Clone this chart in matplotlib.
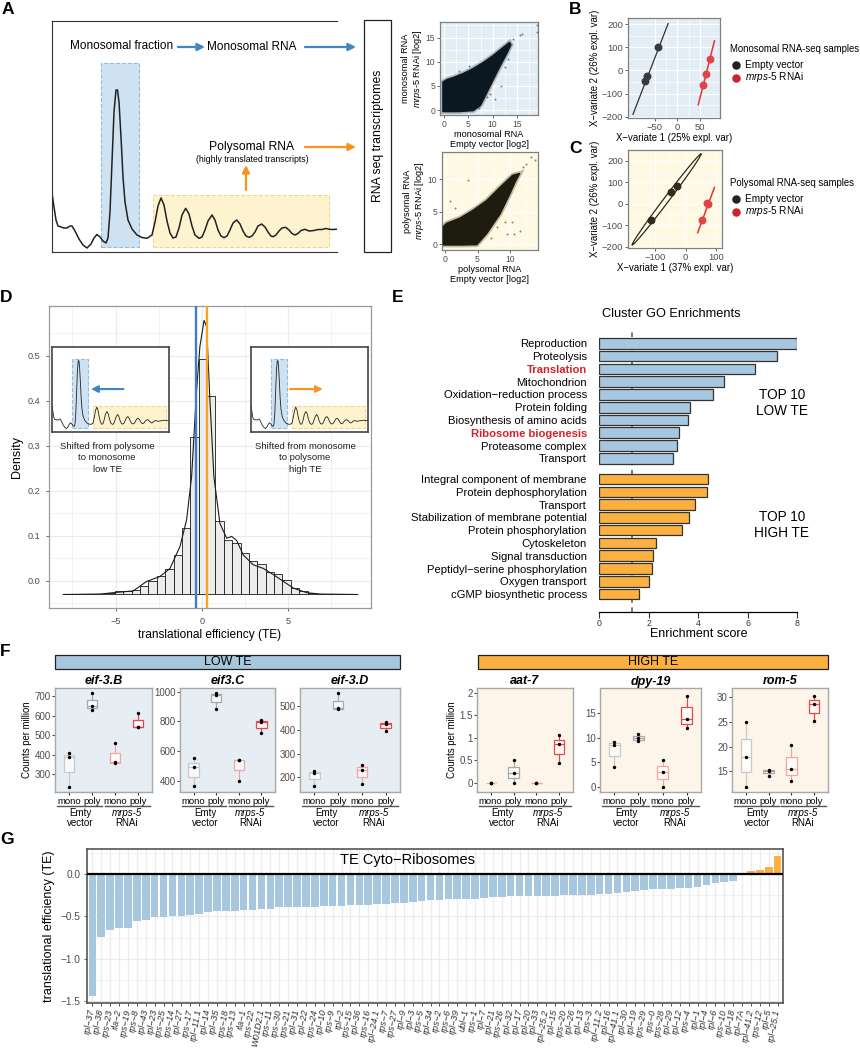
import numpy as np
import matplotlib.pyplot as plt
from matplotlib.patches import Rectangle

plt.rcParams['font.family'] = ['Liberation Sans', 'DejaVu Sans']
plt.rcParams['mathtext.fontset'] = 'custom'
plt.rcParams['mathtext.rm'] = 'Liberation Sans'
plt.rcParams['mathtext.it'] = 'Liberation Sans:italic'
plt.rcParams['mathtext.bf'] = 'Liberation Sans:bold'

# ---------------- data ----------------
# A: polysome profile sketch (position along gradient, absorbance)
profile = [(0, 59), (2, 45), (4, 32), (6, 26), (9, 25), (12, 24), (15, 24), (18, 26), (20, 26),
           (23, 21), (27, 13), (31, 7), (35, 4), (39, 8), (42, 14), (45, 17.5), (48, 15), (51, 11),
           (54, 9), (56, 14), (58, 40), (60, 90), (62, 140), (64, 162), (65.5, 162), (67, 150),
           (69, 115), (71, 75), (73, 50), (76, 32), (80, 23), (85, 17), (90, 14.5), (95, 13.7),
           (100, 17), (103, 30), (106, 46), (109, 54), (112, 47), (115, 31), (118, 19), (121, 14),
           (124, 15), (127, 24), (130, 37), (133.7, 43.7), (137, 38), (140, 26), (143, 17),
           (147, 13.7), (150, 15), (153, 22), (156, 31), (160, 37), (163, 32), (166, 22), (169, 16),
           (172, 14.3), (175, 16), (178, 22), (181, 29), (184.7, 32), (188, 28), (191, 21), (194, 16),
           (197, 14.7), (200, 16), (203, 20), (206, 26), (209.7, 28), (213, 25), (216, 20), (219, 16),
           (221, 15.3), (224, 17), (227, 21), (230, 24), (233.7, 24.7), (237, 22), (240, 18.5),
           (243, 17), (246, 18.5), (249, 21.5), (253, 22.7), (257, 21), (262, 21.5), (266, 22.5),
           (270, 22.5), (274, 23.5), (279, 22.5), (285, 22.7)]
profile_x = [p[0] for p in profile]
profile_y = [p[1] for p in profile]

# A: scatter plots, outline of the dense gene cloud plus loose genes
mono_cloud_x = [-0.3, 3.0, 6.0, 7.5, 8.5, 10.0, 11.5, 13.0, 13.8, 13.5, 12.0, 10.0, 8.0, 6.0, 4.0, 2.0, 0.5, -0.3]
mono_cloud_y = [-0.3, -0.3, -0.1, 1.0, 3.0, 6.0, 9.0, 11.8, 13.5, 14.0, 12.8, 11.2, 9.8, 8.6, 7.6, 6.8, 6.3, 5.8]
mono_loose_x = [15.6, 19.2, 19.2, 14.3, 8.8, 9.5, 7.1, 10.5, 11.8, 3.0, 5.2, 12.6, 13.2, 16.0]
mono_loose_y = [15.5, 17.5, 16.1, 14.6, 2.7, 3.3, 0.5, 2.4, 5.0, 8.0, 9.2, 9.0, 10.5, 15.8]
poly_cloud_x = [-0.26, 2.5, 4.9, 6.4, 8.5, 10.0, 10.8, 11.5, 10.4, 8.5, 6.4, 4.3, 2.3, 0.26, -0.26]
poly_cloud_y = [-0.15, -0.15, -0.1, 1.6, 4.7, 7.8, 9.6, 10.9, 10.6, 8.8, 6.7, 5.2, 4.0, 3.2, 2.7]
poly_loose_x = [13.3, 13.8, 12.5, 12.0, 0.8, 3.6, 8.0, 9.2, 9.5, 10.3, 10.6, 7.0, 1.5, 11.5]
poly_loose_y = [13.4, 12.9, 12.4, 11.9, 6.7, 9.9, 2.6, 3.4, 1.6, 3.4, 1.6, 1.0, 5.5, 2.0]

# B / C: PLS-DA sample scores
b_empty_x = [-41.8, -67.0, -70.7]
b_empty_y = [102.6, -23.0, -47.6]
b_mrps_x = [72.2, 63.3, 57.4]
b_mrps_y = [49.4, -14.3, -62.0]
b_empty_line = ([-98, -20.4], [-190, 203])
b_mrps_line = ([46, 81.8], [-149, 128])
c_empty_x = [-114.0, -49.0, -27.5]
c_empty_y = [-77.0, 53.0, 84.0]
c_mrps_x = [74.0, 71.0, 54.5]
c_mrps_y = [0.0, 4.0, -75.0]
c_empty_ends = ([-174, 50], [-191, 231])
c_mrps_line = ([39.5, 94], [-134, 76])

# D: TE histogram (bin edges, bar tops) and density curve
hist_edges = [-7.95, -7.465, -6.98, -6.495, -6.01, -5.525, -5.04, -4.555, -4.07, -3.585, -3.10,
              -2.615, -2.13, -1.645, -1.16, -0.675, -0.19, 0.295, 0.78, 1.265, 1.75, 2.235, 2.72,
              3.205, 3.69, 4.175, 4.66, 5.145, 5.63, 6.115, 6.60, 7.085, 7.57, 8.055, 8.54, 9.025]
hist_top = [-0.031, -0.031, -0.030, -0.030, -0.029, -0.028, -0.024, -0.023, -0.021, -0.012, 0.0,
            0.009, 0.025, 0.056, 0.116, 0.32, 0.492, 0.409, 0.133, 0.09, 0.084, 0.061, 0.044,
            0.037, 0.018, 0.015, 0.0015, -0.016, -0.024, -0.027, -0.029, -0.030, -0.030, -0.031, -0.031]
hist_base = -0.031
density = [(-8.03, -0.031), (-5.9, -0.03), (-5.14, -0.027), (-3.98, -0.023), (-3.21, -0.002),
           (-2.43, 0.009), (-1.85, 0.027), (-1.27, 0.076), (-0.89, 0.135), (-0.6, 0.231),
           (-0.31, 0.424), (-0.12, 0.52), (0.12, 0.578), (0.27, 0.564), (0.46, 0.401), (0.69, 0.231),
           (1.04, 0.127), (1.43, 0.094), (1.72, 0.098), (2.01, 0.089), (2.39, 0.057), (2.97, 0.035),
           (3.55, 0.027), (4.14, 0.013), (4.72, -0.002), (5.3, -0.017), (6.07, -0.027),
           (6.84, -0.03), (8.96, -0.031)]
dens_x = [d[0] for d in density]
dens_y = [d[1] for d in density]
te_low_cut = -0.35
te_high_cut = 0.31

# E: GO enrichments
go_low_terms = ['Reproduction', 'Proteolysis', 'Translation', 'Mitochondrion',
                'Oxidation\u2212reduction process', 'Protein folding', 'Biosynthesis of amino acids',
                'Ribosome biogenesis', 'Proteasome complex', 'Transport']
go_low_score = [7.97, 7.16, 6.29, 5.04, 4.59, 3.66, 3.60, 3.21, 3.12, 2.99]
go_high_terms = ['Integral component of membrane', 'Protein dephosphorylation', 'Transport',
                 'Stabilization of membrane potential', 'Protein phosphorylation', 'Cytoskeleton',
                 'Signal transduction', 'Peptidyl\u2212serine phosphorylation', 'Oxygen transport',
                 'cGMP biosynthetic process']
go_high_score = [4.38, 4.34, 3.85, 3.61, 3.34, 2.28, 2.17, 2.14, 2.02, 1.59]
go_highlight = ['Translation', 'Ribosome biogenesis']
go_cutoff = 1.31

# F: counts per million (Emty mono, Emty poly, mrps-5 mono, mrps-5 poly)
f_low_genes = ['eif-3.B', 'eif3.C', 'eif-3.D']
f_low_values = [
    [[410, 388, 235], [714, 648, 628], [457, 363, 355], [614, 543, 539]],
    [[553, 492, 367], [989, 978, 884], [541, 540, 402], [810, 794, 720]],
    [[226, 219, 163], [553, 490, 489], [252, 231, 172], [434, 424, 395]],
]
f_high_genes = ['aat-7', 'dpy-19', 'rom-5']
f_high_values = [
    [[0, 0, 0], [0.5, 0.21, 0.0], [0, 0, 0], [1.05, 0.85, 0.44]],
    [[9.1, 8.5, 4.05], [10.8, 9.9, 9.2], [5.5, 3.0, 0.0], [18.5, 13.8, 11.9]],
    [[25.0, 17.9, 11.8], [15.3, 15.1, 14.0], [20.3, 15.5, 13.0], [30.2, 28.6, 25.1]],
]
f_low_yticks = [[300, 400, 500, 600, 700], [400, 600, 800, 1000], [200, 300, 400, 500]]
f_high_yticks = [[0, 0.5, 1, 1.5, 2], [0, 5, 10, 15], [15, 20, 25, 30]]
f_high_ylabels = [['0', '0.5', '1', '1.5', '2'], None, None]
f_low_ylims = [(208, 741), (326, 1025), (138, 576)]
f_high_ylims = [(-0.21, 2.1), (-1.1, 20.1), (10.75, 31.9)]
f_fractions = ['mono', 'poly', 'mono', 'poly']

# G: TE of cytosolic ribosomal protein genes
ribo_genes = ['rpl-37', 'rpl-38', 'rps-23', 'rla-2', 'rps-19', 'rps-8', 'rpl-43', 'rpl-23', 'rps-25',
              'rps-14', 'rpl-27', 'rps-17', 'rpl-11.1', 'rpl-14', 'rpl-35', 'rps-18', 'rps-13', 'rla-1',
              'rps-22', 'W01D2.1', 'rps-11', 'rps-30', 'rps-21', 'rpl-31', 'rpl-22', 'rps-24', 'rpl-10',
              'rps-9', 'rpl-2', 'rps-15', 'rpl-36', 'rps-16', 'rpl-24.1', 'rps-7', 'rps-27', 'rpl-9',
              'rpl-3', 'rps-5', 'rpl-34', 'rps-2', 'rps-6', 'rpl-39', 'ubl-1', 'rps-1', 'rpl-7',
              'rpl-21', 'rps-26', 'rpl-32', 'rpl-17', 'rpl-20', 'rpl-33', 'rpl-25.2', 'rpl-15', 'rps-20',
              'rpl-26', 'rpl-13', 'rps-3', 'rpl-11.2', 'rpl-16', 'rpl-41.1', 'rpl-30', 'rpl-19', 'rps-29',
              'rps-0', 'rps-28', 'rpl-29', 'rpl-12', 'rps-4', 'rpl-1', 'rpl-4', 'rpl-6', 'rps-10',
              'rpl-18', 'rpl-7A', 'rpl-41.2', 'rps-12', 'rpl-5', 'rpl-25.1']
ribo_te = [-1.444, -0.745, -0.666, -0.638, -0.638, -0.551, -0.543, -0.511, -0.511, -0.50, -0.50,
           -0.484, -0.472, -0.448, -0.44, -0.44, -0.432, -0.42, -0.42, -0.412, -0.408, -0.392,
           -0.384, -0.384, -0.384, -0.384, -0.377, -0.373, -0.373, -0.364, -0.364, -0.36, -0.353,
           -0.353, -0.345, -0.337, -0.325, -0.317, -0.31, -0.301, -0.293, -0.293, -0.293, -0.289,
           -0.281, -0.273, -0.27, -0.261, -0.261, -0.261, -0.257, -0.253, -0.253, -0.246, -0.242,
           -0.242, -0.242, -0.238, -0.23, -0.218, -0.206, -0.194, -0.182, -0.178, -0.174, -0.17,
           -0.166, -0.162, -0.15, -0.126, -0.103, -0.09, -0.075, 0.01, 0.039, 0.055, 0.083, 0.218]

# ---------------- colours ----------------
blue = '#a7c7df'
orange = '#fbb040'
arrow_blue = '#3f86c4'
arrow_orange = '#f7941d'
light_blue_bg = '#e3edf5'
light_yel_bg = '#fdf9e2'
tick_grey = '#4d4d4d'

# ---------------- figure ----------------
W, H = 860, 1050
fig = plt.figure(figsize=(W / 100, H / 100), dpi=100)


def add_ax(x0, y0, x1, y1, **kw):
    return fig.add_axes([x0 / W, 1 - y1 / H, (x1 - x0) / W, (y1 - y0) / H], **kw)


ov = add_ax(0, 0, W, H, zorder=20)
ov.set_xlim(0, W)
ov.set_ylim(H, 0)
ov.axis('off')
ov.patch.set_alpha(0)


def arrow(x0, y0, x1, y1, color, ax=ov, lw=1.6, ms=11):
    ax.annotate('', xy=(x1, y1), xytext=(x0, y0),
                arrowprops=dict(arrowstyle='-|>', color=color, lw=lw, mutation_scale=ms,
                                shrinkA=0, shrinkB=0))


def gg_style(ax, bg, grid='white', border='#808080', size=6.5):
    ax.set_facecolor(bg)
    ax.grid(True, which='major', color=grid, lw=0.9)
    ax.grid(True, which='minor', color=grid, lw=0.45)
    ax.set_axisbelow(True)
    for s in ax.spines.values():
        s.set_color(border)
        s.set_linewidth(0.9)
    ax.tick_params(labelsize=size, colors=tick_grey, length=2, width=0.6, pad=1.5)
    ax.tick_params(which='minor', length=0)


def draw_profile(ax, blue_h, yel_h, lw):
    ax.add_patch(Rectangle((49, 5), 38, blue_h, facecolor='#cfe2f2', edgecolor='#8dbde3',
                           ls='--', lw=0.8, zorder=1))
    ax.add_patch(Rectangle((101, 5), 176, yel_h, facecolor='#fdf4cf', edgecolor='#f4d58a',
                           ls='--', lw=0.8, zorder=1))
    ax.plot(profile_x, profile_y, color='#222222', lw=lw, zorder=2)
    ax.set_xlim(0, 285)
    ax.set_xticks([])
    ax.set_yticks([])


# panel letters
for lab, x, y in [('A', 2, 2), ('B', 569, 2), ('C', 569, 141), ('D', 0, 290), ('E', 392, 290),
                  ('F', 0, 644), ('G', 0, 832)]:
    ov.text(x, y, lab, fontsize=12.5, fontweight='bold', va='top', ha='left')

# ---------- A: schematic ----------
axA = add_ax(52, 21, 337, 252)
draw_profile(axA, 184, 52, 1.1)
axA.set_ylim(0, 231)
axA.spines['right'].set_visible(False)
for s in ['top', 'left', 'bottom']:
    axA.spines[s].set_linewidth(0.8)
    axA.spines[s].set_color('#333333')

ov.text(70, 46, 'Monosomal fraction', fontsize=8.5, va='center', ha='left')
arrow(178, 47, 205, 47, arrow_blue)
ov.text(207, 47, 'Monosomal RNA', fontsize=8.5, va='center', ha='left')
arrow(305, 47, 356, 47, arrow_blue)
ov.text(252, 147, 'Polysomal RNA', fontsize=8.7, va='center', ha='center')
ov.text(252, 160, '(highly translated transcripts)', fontsize=6.3, va='center', ha='center')
arrow(246, 190, 246, 165, arrow_orange)
arrow(305, 147, 356, 147, arrow_orange)
ov.add_patch(Rectangle((364, 20), 27, 232, facecolor='none', edgecolor='#222222', lw=0.9))
ov.text(377.5, 136, 'RNA seq transcriptomes', rotation=90, fontsize=8.8, ha='center', va='center')

# A: scatter plots
mrps_lab = r'$\it{mrps}$-$\it{5}$ RNAi [log2]'
axS1 = add_ax(440, 22, 538, 115)
gg_style(axS1, light_blue_bg, size=6.2)
axS1.fill(mono_cloud_x, mono_cloud_y, fc='none', ec='#6b7780', lw=3.5, alpha=0.45, zorder=2)
axS1.fill(mono_cloud_x, mono_cloud_y, color='#0b1822', lw=1.0, ec='#0b1822', zorder=3)
axS1.scatter(mono_loose_x, mono_loose_y, s=2, color='#333333', alpha=0.6, lw=0, zorder=3)
axS1.set_xlim(-0.9, 19.4)
axS1.set_ylim(-1.0, 18.2)
axS1.set_xticks([0, 5, 10, 15])
axS1.set_yticks([0, 5, 10, 15])
axS1.set_xticks([2.5, 7.5, 12.5, 17.5], minor=True)
axS1.set_yticks([2.5, 7.5, 12.5, 17.5], minor=True)
axS1.set_xlabel('monosomal RNA\nEmpty vector [log2]', fontsize=6.6, labelpad=1, linespacing=1.1)
axS1.set_ylabel('monosomal RNA\n' + mrps_lab, fontsize=6.6, labelpad=1, linespacing=1.1)

axS2 = add_ax(442, 152, 538, 250)
gg_style(axS2, light_yel_bg, size=6.2)
axS2.fill(poly_cloud_x, poly_cloud_y, fc='none', ec='#7a7960', lw=3.5, alpha=0.45, zorder=2)
axS2.fill(poly_cloud_x, poly_cloud_y, color='#1d1c0e', lw=1.0, ec='#1d1c0e', zorder=3)
axS2.scatter(poly_loose_x, poly_loose_y, s=2, color='#333322', alpha=0.6, lw=0, zorder=3)
axS2.set_xlim(-0.46, 14.3)
axS2.set_ylim(-0.92, 14.2)
axS2.set_xticks([0, 5, 10])
axS2.set_yticks([0, 5, 10])
axS2.set_xticks([2.5, 7.5, 12.5], minor=True)
axS2.set_yticks([2.5, 7.5, 12.5], minor=True)
axS2.set_xlabel('polysomal RNA\nEmpty vector [log2]', fontsize=6.6, labelpad=1, linespacing=1.1)
axS2.set_ylabel('polysomal RNA\n' + mrps_lab, fontsize=6.6, labelpad=1, linespacing=1.1)

# ---------- B / C ----------
ev_col = '#222222'


def pls_axes(box, bg, xlim, ylim, xticks, xlab):
    ax = add_ax(*box)
    gg_style(ax, bg, size=6.8)
    ax.set_xlim(*xlim)
    ax.set_ylim(*ylim)
    ax.set_xticks(xticks)
    ax.set_yticks([-200, -100, 0, 100, 200])
    ax.set_yticks([-150, -50, 50, 150], minor=True)
    ax.set_xticks([(a + b) / 2 for a, b in zip(xticks[:-1], xticks[1:])], minor=True)
    ax.set_xlabel(xlab, fontsize=6.9, labelpad=1)
    ax.set_ylabel('X\u2212variate 2 (26% expl. var)', fontsize=6.9, labelpad=1)
    return ax


axB = pls_axes((628, 18, 720, 118), light_blue_bg, (-109, 94), (-206, 227), [-50, 0, 50],
               'X\u2212variate 1 (25% expl. var)')
axB.plot(*b_empty_line, color='#333333', lw=0.9)
axB.plot(*b_mrps_line, color='#e8322e', lw=1.1)
axB.scatter(b_empty_x, b_empty_y, s=22, color='#3a3a3a', zorder=4)
axB.scatter(b_mrps_x, b_mrps_y, s=22, color='#e04444', zorder=4)

axC = pls_axes((628, 150, 722, 248), light_yel_bg, (-187.5, 118.7), (-205, 250), [-100, 0, 100],
               'X\u2212variate 1 (37% expl. var)')
# thin confidence ellipse drawn in pixel space, then mapped to data units
sx = 94 / (118.7 + 187.5)
sy = 98 / (250 + 205)
ex0, ex1 = c_empty_ends[0]
ey0, ey1 = c_empty_ends[1]
dxp, dyp = (ex1 - ex0) * sx, (ey1 - ey0) * sy
length = np.hypot(dxp, dyp)
ux, uy = dxp / length, dyp / length
t = np.linspace(0, 2 * np.pi, 200)
a_, b_ = length / 2, 2.6
px = a_ * np.cos(t) * ux - b_ * np.sin(t) * uy
py = a_ * np.cos(t) * uy + b_ * np.sin(t) * ux
axC.plot((ex0 + ex1) / 2 + px / sx, (ey0 + ey1) / 2 + py / sy, color='#2a2a1a', lw=0.9)
axC.plot(*c_mrps_line, color='#e8322e', lw=1.1)
axC.scatter(c_empty_x, c_empty_y, s=22, color='#2e2c1c', zorder=4)
axC.scatter(c_mrps_x, c_mrps_y, s=22, color='#e04444', zorder=4)

for title, y0 in [('Monosomal RNA-seq samples', 49), ('Polysomal RNA-seq samples', 183)]:
    ov.text(730, y0, title, fontsize=6.9, va='center')
    ov.scatter([736], [y0 + 16], s=26, color=ev_col)
    ov.text(745, y0 + 16, 'Empty vector', fontsize=7.2, va='center')
    ov.scatter([736], [y0 + 28.5], s=26, color='#c8252c')
    ov.text(745, y0 + 28.5, r'$\it{mrps}$-$\it{5}$ RNAi', fontsize=7.2, va='center')

# ---------- D ----------
axD = add_ax(49, 306, 371, 608)
gg_style(axD, 'white', grid='#ebebeb', border='#9a9a9a', size=6.6)
axD.bar(hist_edges[:-1], [h - hist_base for h in hist_top], width=0.485, bottom=hist_base,
        align='edge', facecolor='#ececec', edgecolor='#1a1a1a', lw=0.6, zorder=2)
axD.plot(dens_x, dens_y, color='#1a1a1a', lw=0.8, zorder=3)
axD.axvline(te_low_cut, color='#3f7fbf', lw=1.7, zorder=4)
axD.axvline(te_high_cut, color='#f7a325', lw=1.7, zorder=4)
axD.set_xlim(-8.86, 9.79)
axD.set_ylim(-0.061, 0.61)
axD.set_xticks([-5, 0, 5])
axD.set_xticklabels(['\u22125', '0', '5'])
axD.set_xticks([-7.5, -2.5, 2.5, 7.5], minor=True)
axD.set_yticks([0, 0.1, 0.2, 0.3, 0.4, 0.5])
axD.set_yticks([-0.05, 0.05, 0.15, 0.25, 0.35, 0.45, 0.55], minor=True)
axD.tick_params(length=2.5, pad=4)
axD.set_ylabel('Density', fontsize=9, labelpad=3)
axD.set_xlabel('translational efficiency (TE)', fontsize=8.6, labelpad=2)

for box, arr, col in [((52, 347, 169, 432), (174, 95), arrow_blue),
                      ((251, 347, 368, 432), (95, 175), arrow_orange)]:
    ai = add_ax(*box, zorder=5)
    draw_profile(ai, 161, 52, 0.6)
    ai.set_ylim(-4, 194)
    for s in ai.spines.values():
        s.set_color('#444444')
        s.set_linewidth(1.2)
    arrow(arr[0], 96, arr[1], 96, col, ax=ai, lw=1.5, ms=10)

ov.text(107, 458, 'Shifted from polysome\nto monosome\nlow TE', fontsize=6.8, ha='center',
        va='center', linespacing=1.35, color='#222222')
ov.text(305, 458, 'Shifted from monosome\nto polysome\nhigh TE', fontsize=6.8, ha='center',
        va='center', linespacing=1.35, color='#222222')

# ---------- E ----------
low_pos = list(range(len(go_low_terms)))
high_pos = [10.62 + i for i in range(len(go_high_terms))]
axE = add_ax(599.3, 331.7, 797.3, 611.7)
axE.barh(low_pos, go_low_score, height=0.83, color=blue, edgecolor='#333333', lw=0.9)
axE.barh(high_pos, go_high_score, height=0.83, color=orange, edgecolor='#333333', lw=0.9)
axE.axvline(go_cutoff, color='#555555', ls=(0, (3, 3)), lw=1.1, zorder=0)
axE.set_xlim(0, 8)
axE.set_ylim(21.0, -0.91)
for s in ['top', 'right', 'left']:
    axE.spines[s].set_visible(False)
axE.spines['bottom'].set_bounds(0, 8)
axE.spines['bottom'].set_linewidth(0.9)
axE.set_xticks([0, 2, 4, 6, 8])
axE.tick_params(axis='x', labelsize=6.3, length=4, width=0.8, pad=1.5, colors='#333333')
axE.set_yticks(low_pos + high_pos)
axE.set_yticklabels(go_low_terms + go_high_terms, fontsize=8.1)
axE.tick_params(axis='y', length=0, pad=9)
for lbl in axE.get_yticklabels():
    if lbl.get_text() in go_highlight:
        lbl.set_color('#d6212a')
        lbl.set_fontweight('bold')
axE.set_xlabel('Enrichment score', fontsize=9, labelpad=0)
ov.text(671.7, 314, 'Cluster GO Enrichments', fontsize=9.2, ha='center', va='center')
ov.text(781.7, 403, 'TOP 10\nLOW TE', fontsize=9.8, ha='center', va='center', linespacing=1.2)
ov.text(781.7, 525, 'TOP 10\nHIGH TE', fontsize=9.8, ha='center', va='center', linespacing=1.2)

# ---------- F ----------
box_cols = ['#c9c9c9', '#a9a9a9', '#f3a4a4', '#e8474d']
F_TOP, F_BOT = 688, 792


def box_panel(x0, x1, name, vals, ylim, yticks, ylabels, bg, ylabel):
    ax = add_ax(x0, F_TOP, x1, F_BOT)
    ax.set_facecolor(bg)
    for i, v in enumerate(vals):
        c = box_cols[i]
        ax.boxplot([v], positions=[i + 1], widths=0.45, patch_artist=True, showcaps=False,
                   showfliers=False, whis=(0, 100),
                   boxprops=dict(facecolor=(1, 1, 1, 0.7), edgecolor=c, lw=0.9),
                   medianprops=dict(color=c, lw=0.9), whiskerprops=dict(color=c, lw=0.9))
        ax.scatter([i + 1] * len(v), v, s=6, color='black', zorder=5, lw=0)
    ax.set_xlim(0.4, 4.6)
    ax.set_ylim(*ylim)
    ax.set_yticks(yticks)
    if ylabels:
        ax.set_yticklabels(ylabels)
    ax.set_xticks([1, 2, 3, 4])
    ax.set_xticklabels(f_fractions)
    ax.tick_params(axis='y', labelsize=7, colors=tick_grey, length=2, pad=1)
    ax.tick_params(axis='x', labelsize=6.8, length=2, pad=1.5, colors='#333333')
    for lbl in ax.get_xticklabels():
        lbl.set_color('black')
    for s in ax.spines.values():
        s.set_color('#a8a8a8')
        s.set_linewidth(1.0)
    if ylabel:
        ax.set_ylabel('Counts per million', fontsize=6.9, labelpad=2)
    cx = (x0 + x1) / 2
    ov.text(cx, 681.5, name, fontsize=9, fontweight='bold', fontstyle='italic',
            ha='center', va='center')

    # group annotations under the fractions
    def xpx(d):
        return x0 + (d - 0.4) / 4.2 * (x1 - x0)
    ov.plot([xpx(0.47), xpx(2.45)], [805.5, 805.5], color='#555555', lw=1.0)
    ov.plot([xpx(2.55), xpx(4.53)], [805.5, 805.5], color='#555555', lw=1.0)
    ov.text(xpx(1.5), 813, 'Emty', fontsize=7, ha='center', va='center')
    ov.text(xpx(1.5), 823.5, 'vector', fontsize=7, ha='center', va='center')
    ov.text(xpx(3.5), 813, 'mrps-5', fontsize=7, ha='center', va='center', fontstyle='italic')
    ov.text(xpx(3.5), 823.5, 'RNAi', fontsize=7, ha='center', va='center')
    return ax


low_x = [(55, 152), (180, 275), (300, 400)]
high_x = [(477, 573), (600, 701), (732, 828)]
for k in range(3):
    box_panel(*low_x[k], f_low_genes[k], f_low_values[k], f_low_ylims[k], f_low_yticks[k], None,
              '#e6eef3', k == 0)
    box_panel(*high_x[k], f_high_genes[k], f_high_values[k], f_high_ylims[k], f_high_yticks[k],
              f_high_ylabels[k], '#fdf5e9', k == 0)

for (x0, x1), lab, col in [((55, 400), 'LOW TE', blue), ((477.7, 827.7), 'HIGH TE', orange)]:
    ov.add_patch(Rectangle((x0, 655), x1 - x0, 14.3, facecolor=col, edgecolor='#222222', lw=0.9))
    ov.text((x0 + x1) / 2, 662.3, lab, fontsize=9, ha='center', va='center')

# ---------- G ----------
pos = np.arange(1, len(ribo_genes) + 1)
axG = add_ax(87, 849, 783, 1003)
gg_style(axG, 'white', grid='#ebebeb', border='#555555', size=7.3)
axG.bar(pos, ribo_te, width=0.85, color=[orange if v > 0 else blue for v in ribo_te], zorder=2)
axG.axhline(0, color='black', lw=1.6, zorder=3)
axG.set_xlim(0.4, len(ribo_genes) + 0.6)
axG.set_ylim(-1.526, 0.30)
axG.set_yticks([-1.5, -1.0, -0.5, 0.0])
axG.set_yticklabels(['\u22121.5', '\u22121.0', '\u22120.5', '0.0'])
axG.set_yticks([-1.25, -0.75, -0.25, 0.25], minor=True)
axG.set_xticks(pos)
axG.set_xticklabels([g.replace('-', '\u2212') for g in ribo_genes], rotation=80, ha='right',
                    va='center', rotation_mode='anchor', fontsize=6.6, fontstyle='italic')
axG.tick_params(axis='x', length=2.5, pad=2, colors='#333333')
axG.tick_params(axis='y', length=2.5, pad=2)
for s in axG.spines.values():
    s.set_linewidth(1.2)
axG.set_ylabel('translational efficiency (TE)', fontsize=9, labelpad=4)
ov.text(408, 860, 'TE Cyto\u2212Ribosomes', fontsize=10.5, ha='center', va='center')

fig.savefig('out.png', dpi=100)
